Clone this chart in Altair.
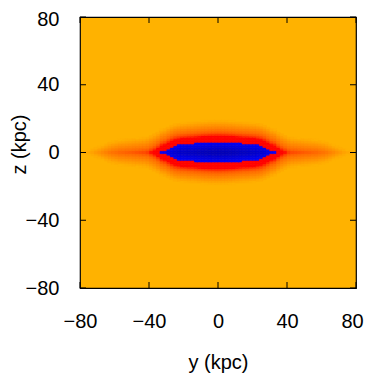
import altair as alt
import pandas as pd

# |y| cell centres (kpc) and the in-plane level (1 = core, 0 = background)
y_abs = [1, 3, 5, 7, 9, 11, 13, 15, 17, 19, 21, 23, 25, 27, 29, 31, 33, 35, 37, 39,
         41, 43, 45, 47, 49, 51, 53, 55, 57, 59, 61, 63, 65, 67, 69, 71, 73, 75, 77, 79]
y_level = [1.0, 0.998, 0.994, 0.988, 0.98, 0.97, 0.96, 0.95, 0.945, 0.935, 0.925, 0.91,
           0.89, 0.85, 0.80, 0.74, 0.71, 0.63, 0.57, 0.52, 0.47, 0.45, 0.44, 0.43,
           0.42, 0.41, 0.40, 0.39, 0.38, 0.36, 0.34, 0.31, 0.27, 0.23, 0.19, 0.15,
           0.11, 0.08, 0.05, 0.02]
# |z| cell centres (kpc) and the vertical drop of the level
z_abs = [0.5, 1.5, 2.5, 3.5, 4.5, 5.5, 6.5, 7.5, 8.5, 9.5, 10.5, 11.5, 12.5,
         13.5, 14.5, 15.5, 16.5, 17.5, 18.5, 19.5, 20.5, 21.5, 22.5, 23.5, 24.5]
z_drop = [0.025, 0.075, 0.125, 0.175, 0.225, 0.275, 0.325, 0.375, 0.425, 0.475,
          0.53, 0.585, 0.64, 0.695, 0.75, 0.805, 0.86, 0.915, 0.97, 1.025,
          1.08, 1.135, 1.19, 1.245, 1.3]

tick_values = [-80, -40, 0, 40, 80]
palette_stops = [0.0, 0.35, 0.5, 0.675, 0.676, 1.0]
palette_colors = ["#FFB200", "#FF6A00", "#FF0000", "#FF0000", "#0000FF", "#0000B4"]

rows = []
for ya, yl in zip(y_abs, y_level):
    for sy in (-1, 1):
        for za, zd in zip(z_abs, z_drop):
            v = yl - zd
            if v <= 0:
                continue
            for sz in (-1, 1):
                yc = sy * ya
                zc = sz * za
                rows.append({"y0": yc - 1, "y1": yc + 1, "z0": zc - 0.5, "z1": zc + 0.5, "v": v})
cells = pd.DataFrame(rows)

W = 276
H = 271
FONT = "Liberation Sans"
xs = alt.Scale(domain=[-80, 80], nice=False, zero=False)
ys = alt.Scale(domain=[-80, 80], nice=False, zero=False)
cs = alt.Scale(domain=palette_stops, range=palette_colors, clamp=True)

heat = alt.Chart(cells).mark_rect(strokeWidth=0.6).encode(
    x=alt.X("y0:Q", scale=xs, axis=alt.Axis(values=tick_values, title="y (kpc)", grid=False,
                                            ticks=False, domain=False, labelFontSize=20,
                                            labelFont=FONT, labelColor="black", labelPadding=23,
                                            labelFlush=False,
                                            labelOffset={"condition": {"test": "datum.value == 80", "value": -4}, "value": 0},
                                            titleFont=FONT, titleFontSize=20, titleFontWeight="normal",
                                            titleColor="black", titleY=74, titleBaseline="middle")),
    x2="y1:Q",
    y=alt.Y("z0:Q", scale=ys, axis=alt.Axis(values=tick_values, title="z (kpc)", grid=False,
                                            ticks=False, domain=False, labelFontSize=20,
                                            labelFont=FONT, labelColor="black", labelPadding=21,
                                            labelFlush=False,
                                            labelOffset={"condition": {"test": "datum.value == 80", "value": 2}, "value": 0},
                                            titleFont=FONT, titleFontSize=20, titleFontWeight="normal",
                                            titleColor="black", titleX=-61, titleY=127,
                                            titleBaseline="middle", titleAlign="center")),
    y2="z1:Q",
    color=alt.Color("v:Q", scale=cs, legend=None),
    stroke=alt.Stroke("v:Q", scale=cs, legend=None),
)

tdf = pd.DataFrame({"t": tick_values})
tick_bottom = alt.Chart(tdf).mark_rule(color="black", strokeWidth=1).encode(
    x=alt.X("t:Q", scale=xs), y=alt.value(H), y2=alt.value(H - 6))
tick_top = alt.Chart(tdf).mark_rule(color="black", strokeWidth=1).encode(
    x=alt.X("t:Q", scale=xs), y=alt.value(0), y2=alt.value(6))
tick_left = alt.Chart(tdf).mark_rule(color="black", strokeWidth=1).encode(
    y=alt.Y("t:Q", scale=ys), x=alt.value(0), x2=alt.value(6))
tick_right = alt.Chart(tdf).mark_rule(color="black", strokeWidth=1).encode(
    y=alt.Y("t:Q", scale=ys), x=alt.value(W - 6), x2=alt.value(W))

chart = alt.layer(heat, tick_bottom, tick_top, tick_left, tick_right).properties(
    width=W, height=H,
    autosize=alt.AutoSizeParams(type="none"),
    padding={"left": 72, "top": 9, "right": 8, "bottom": 90},
).configure_view(fill="#FFB200", stroke="black", strokeWidth=1.2)

chart.save("out.html", embed_options={"renderer": "svg", "actions": False})
